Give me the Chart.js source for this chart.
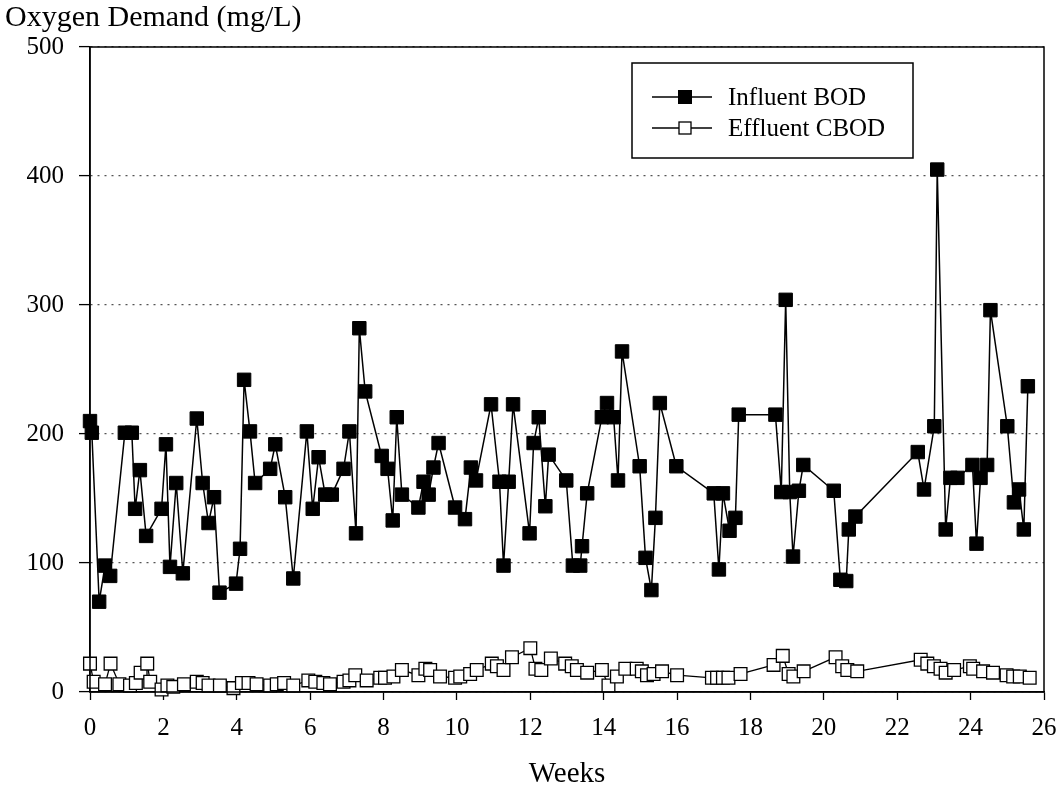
<!DOCTYPE html>
<html>
<head>
<meta charset="utf-8">
<script src="https://cdn.jsdelivr.net/npm/chart.js@4.4.1/dist/chart.umd.min.js"></script>
<style>
  body { margin: 0; background: #fff; }
  #wrap { width: 1063px; height: 792px; }
</style>
</head>
<body>
<div id="wrap"><canvas id="chart" width="1063" height="792"></canvas></div>
<script>
// weeks and values
const influentWeeks = [0, 0.05, 0.25, 0.41, 0.55, 0.95, 1.14, 1.23, 1.36, 1.53, 1.95, 2.07, 2.18, 2.35, 2.53, 2.91, 3.07, 3.23, 3.38, 3.53,
  3.98, 4.09, 4.2, 4.36, 4.5, 4.91, 5.05, 5.32, 5.54, 5.91, 6.07, 6.23, 6.41, 6.59, 6.91, 7.07, 7.25, 7.34, 7.5, 7.95,
  8.11, 8.25, 8.36, 8.5, 8.95, 9.09, 9.23, 9.36, 9.5, 9.95, 10.22, 10.38, 10.52, 10.93, 11.16, 11.27, 11.41, 11.53, 11.98, 12.09,
  12.23, 12.41, 12.5, 12.98, 13.16, 13.36, 13.41, 13.55, 13.95, 14.09, 14.27, 14.39, 14.5, 14.98, 15.14, 15.3, 15.41, 15.53, 15.98, 17,
  17.14, 17.25, 17.43, 17.59, 17.68, 18.68, 18.84, 18.96, 19.07, 19.16, 19.32, 19.44, 20.27, 20.45, 20.61, 20.68, 20.86, 22.56, 22.73, 23.01,
  23.09, 23.32, 23.45, 23.64, 24.05, 24.16, 24.27, 24.45, 24.54, 25, 25.18, 25.32, 25.45, 25.56];
const influentBOD = [210, 201, 70, 98, 90, 201, 201, 142, 172, 121, 142, 192, 97, 162, 92, 212, 162, 131, 151, 77,
  84, 111, 242, 202, 162, 173, 192, 151, 88, 202, 142, 182, 153, 153, 173, 202, 123, 282, 233, 183,
  173, 133, 213, 153, 143, 163, 153, 174, 193, 143, 134, 174, 164, 223, 163, 98, 163, 223, 123, 193,
  213, 144, 184, 164, 98, 98, 113, 154, 213, 224, 213, 164, 264, 175, 104, 79, 135, 224, 175, 154,
  95, 154, 125, 135, 215, 215, 155, 304, 155, 105, 156, 176, 156, 87, 86, 126, 136, 186, 157, 206,
  405, 126, 166, 166, 176, 115, 166, 176, 296, 206, 147, 157, 126, 237];

const effluentWeeks = [0, 0.1, 0.41, 0.56, 0.8, 1.09, 1.25, 1.38, 1.56, 1.64, 1.95, 2.11, 2.27, 2.56, 2.91, 3.07, 3.23, 3.54, 3.91, 4.14,
  4.32, 4.54, 4.91, 5.09, 5.29, 5.54, 5.95, 6.14, 6.36, 6.54, 6.91, 7.07, 7.23, 7.54, 7.91, 8.04, 8.27, 8.5, 8.95, 9.14,
  9.27, 9.54, 9.95, 10.09, 10.36, 10.54, 10.95, 11.09, 11.27, 11.5, 12, 12.14, 12.3, 12.56, 12.95, 13.13, 13.27, 13.55, 13.95, 14.13,
  14.36, 14.59, 14.9, 15.04, 15.18, 15.36, 15.59, 16, 16.95, 17.09, 17.25, 17.4, 17.73, 18.63, 18.88, 19.04, 19.17, 19.45, 20.32, 20.5,
  20.64, 20.91, 22.64, 22.82, 23, 23.18, 23.32, 23.55, 23.98, 24.07, 24.34, 24.61, 24.98, 25.16, 25.34, 25.61];
const effluentCBOD = [22, 8, 6, 22, 6, 5, 7, 15, 22, 8, 2, 5, 4, 6, 8, 7, 5, 5, 3, 7,
  7, 6, 5, 6, 7, 5, 9, 8, 7, 6, 8, 9, 13, 9, 11, 11, 12, 17, 13, 18,
  17, 12, 11, 12, 14, 17, 22, 20, 17, 27, 34, 18, 17, 26, 22, 20, 17, 15, 17, 5,
  12, 18, 18, 16, 13, 14, 16, 13, 11, 11, 11, 11, 14, 21, 28, 14, 12, 16, 27, 20,
  17, 16, 25, 22, 20, 18, 15, 17, 20, 18, 16, 15, 13, 12, 12, 11];

const seriesNames = ["Influent BOD", "Effluent CBOD"];
const yTicks = [0, 100, 200, 300, 400, 500];
const xTicks = [0, 2, 4, 6, 8, 10, 12, 14, 16, 18, 20, 22, 24, 26];

const serif = "'Liberation Serif', 'Times New Roman', serif";

function toPoints(xs, ys) {
  return xs.map((x, i) => ({ x: x, y: ys[i] }));
}

// solid box round the plot, the scan shows top and right edges drawn
const frame = {
  id: "frame",
  afterDatasetsDraw(chart) {
    const a = chart.chartArea;
    const c = chart.ctx;
    c.save();
    c.strokeStyle = "#000";
    c.lineWidth = 1.5;
    c.strokeRect(a.left, a.top, a.right - a.left, a.bottom - a.top);
    c.restore();
  }
};

// boxed legend in the upper right of the plot
const boxLegend = {
  id: "boxLegend",
  afterDraw(chart) {
    const c = chart.ctx;
    c.save();
    c.fillStyle = "#fff";
    c.fillRect(632, 63, 281, 95);
    c.strokeStyle = "#000";
    c.lineWidth = 1.5;
    c.strokeRect(632, 63, 281, 95);
    const rows = [97, 128];
    rows.forEach((y, i) => {
      c.beginPath();
      c.moveTo(652, y);
      c.lineTo(712, y);
      c.lineWidth = 1.3;
      c.stroke();
      if (i === 0) {
        c.fillStyle = "#000";
        c.fillRect(678, y - 7, 14, 14);
      } else {
        c.fillStyle = "#fff";
        c.fillRect(679, y - 6, 12, 12);
        c.strokeRect(679, y - 6, 12, 12);
      }
      c.fillStyle = "#000";
      c.font = "25px " + serif;
      c.textBaseline = "middle";
      c.fillText(seriesNames[i], 728, y + 1);
    });
    c.restore();
  }
};

new Chart(document.getElementById("chart"), {
  type: "scatter",
  data: {
    datasets: [
      {
        label: seriesNames[0],
        data: toPoints(influentWeeks, influentBOD),
        showLine: true,
        borderColor: "#000",
        borderWidth: 1.5,
        pointStyle: "rect",
        pointRadius: 9.5,
        pointBackgroundColor: "#000",
        pointBorderColor: "#000",
        pointBorderWidth: 1,
        clip: false
      },
      {
        label: seriesNames[1],
        data: toPoints(effluentWeeks, effluentCBOD),
        showLine: true,
        borderColor: "#000",
        borderWidth: 1.3,
        pointStyle: "rect",
        pointRadius: 9,
        pointBackgroundColor: "#fff",
        pointBorderColor: "#000",
        pointBorderWidth: 1.3,
        clip: false
      }
    ]
  },
  options: {
    responsive: false,
    animation: false,
    layout: { padding: { left: 5, right: 19, top: 0, bottom: 0 } },
    plugins: {
      legend: { display: false },
      tooltip: { enabled: false },
      title: {
        display: true,
        text: "Oxygen Demand (mg/L)",
        align: "start",
        color: "#000",
        font: { family: serif, size: 30, weight: "normal" },
        padding: { top: 0, bottom: 11 }
      }
    },
    scales: {
      x: {
        type: "linear",
        min: 0,
        max: 26,
        afterFit(scale) {
          scale.height = 100;
          scale.paddingLeft = 0;
          scale.paddingRight = 0;
        },
        afterBuildTicks(scale) { scale.ticks = xTicks.map(v => ({ value: v })); },
        ticks: {
          color: "#000",
          font: { family: serif, size: 25 },
          padding: 13
        },
        grid: {
          drawOnChartArea: false,
          drawTicks: true,
          tickLength: 8,
          tickColor: "#000",
          tickWidth: 1.3
        },
        border: { color: "#000", width: 1.5 },
        title: {
          display: true,
          text: "Weeks",
          color: "#000",
          font: { family: serif, size: 29 },
          padding: { top: 0, bottom: 0 }
        }
      },
      y: {
        min: 0,
        max: 500,
        afterFit(scale) {
          scale.width = 85;
          scale.paddingTop = 0;
          scale.paddingBottom = 0;
        },
        afterBuildTicks(scale) { scale.ticks = yTicks.map(v => ({ value: v })); },
        ticks: {
          color: "#000",
          font: { family: serif, size: 25 },
          padding: 15
        },
        grid: {
          color: "#555",
          lineWidth: 1.2,
          drawTicks: true,
          tickLength: 11,
          tickColor: "#000",
          tickWidth: 1.3
        },
        border: { color: "#000", width: 1.5, dash: [2, 5] }
      }
    }
  },
  plugins: [frame, boxLegend]
});
</script>
</body>
</html>
